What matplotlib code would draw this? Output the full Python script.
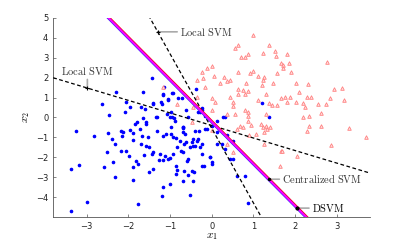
import numpy as np
import matplotlib
matplotlib.use('Agg')
import matplotlib.pyplot as plt

plt.rcParams['mathtext.fontset'] = 'cm'

# class -1 samples (blue dots)
blue_x = [-1.43, -2.29, -1.64, -1.14, -2.62, -2.05, -1.95, -2.07, -2.45, -1.69,
          -1.60, -1.40, -1.21, -1.05, -0.93, -0.71, -1.17, -0.38, -1.64, -1.79,
          -1.31, -1.07, -0.98, -0.95, -0.90, -0.57, -0.29, -0.24,
          -3.26, -2.83, -2.48, -2.40, -2.31, -2.17, -2.12, -2.14, -1.95, -1.88,
          -1.88, -1.83, -1.71, -1.67, -1.57, -1.52, -1.69, -1.57, -1.50, -1.31,
          -1.17, -1.10, -0.98, -0.93, -0.86, -0.76, -0.64, -0.69, -0.67, -0.48,
          -0.45, -0.36, -0.31, -0.24,
          -2.50, -2.17, -2.05, -1.98, -1.81, -1.76, -1.88, -2.36, -2.57, -2.31,
          -1.88, -1.62, -1.50, -1.40, -1.43, -1.40, -1.24, -1.26, -1.17, -1.12,
          -1.05, -1.00, -0.93, -0.83, -0.74, -0.60, -0.86, -0.83, -0.86, -0.67,
          -0.57, -0.48, -0.43, -0.69, -0.45, -1.00, -1.17, -1.19, -0.52, -2.98,
          -3.38, -1.76, -3.17, -3.38, -0.24, -0.19, -0.24,
          -0.33, -0.24, -0.17, 0.26, 0.31, 1.21, 1.38, -0.69, -0.69, -0.40,
          -0.12, -0.33, -0.45, -0.62, -0.52, -0.40, -0.29, -0.69, -0.57, -0.05,
          0.00, 0.43, 0.12, 0.00, -0.17, 0.14, 0.36, 0.50, 0.12, 0.24,
          0.33, 0.52, -0.05, 0.00, 0.60, 0.79, 0.86,
          -1.17, -0.95, -0.81, -1.19, -1.05, -1.40, -1.33, -1.00, -0.88, -1.57,
          -0.69, -0.98, -0.62]
blue_y = [1.96, 1.30, 1.30, 1.53, 0.70, 0.77, 0.53, 0.30, 0.12, 0.53,
          0.45, 0.70, 0.80, 0.95, 1.25, 1.00, 1.20, 1.45, -0.05, -0.25,
          0.00, 0.15, 0.25, 0.00, -0.05, 0.00, 0.30, 0.40,
          -0.70, -0.95, -0.80, -1.10, -1.35, -0.70, -0.75, -0.95, -0.65, -0.80,
          -1.15, -0.35, -0.60, -0.95, -0.35, -1.00, -1.35, -1.45, -1.50, -0.70,
          -0.95, -0.85, -0.85, -1.00, -1.05, -1.20, -0.85, -0.55, -1.35, -1.25,
          -1.45, -1.20, -0.70, -1.35,
          -1.75, -1.70, -1.70, -1.95, -2.20, -2.35, -2.50, -2.25, -2.50, -3.00,
          -3.15, -1.90, -2.75, -2.60, -1.85, -1.75, -1.85, -2.15, -2.15, -1.95,
          -2.10, -2.05, -1.85, -1.50, -1.70, -2.20, -2.45, -2.65, -2.85, -2.70,
          -2.90, -2.70, -2.75, -3.20, -3.20, -3.35, -3.50, -3.95, -3.90, -4.25,
          -4.70, -4.35, -2.40, -2.60, -2.45, -2.45, -1.85,
          0.30, 0.50, 0.05, 0.00, 0.00, 0.75, 0.00, -0.50, -0.75, -0.70,
          -0.60, -1.10, -1.10, -1.25, -1.50, -1.45, -1.50, -1.75, -2.10, -2.00,
          -2.25, -2.10, -0.20, -0.45, -0.60, -0.75, -0.90, -1.20, -1.35, -1.35,
          -1.60, -2.10, -2.00, -2.35, -2.95, -2.95, -4.30,
          1.15, 1.25, 1.00, 0.70, 0.90, 0.75, 0.00, 0.00, -0.20, -0.25,
          -0.50, -0.50, 0.40]

# class +1 samples (red triangles)
red_x = [0.98, 0.62, 0.55, 1.38, 1.52, 1.24, 1.81, 1.55, 0.86, 0.79,
         0.71, 1.67, 1.71, 1.86, 1.71, 2.76, 0.02, -0.10, 0.62, 0.98,
         0.93, 1.57, 1.90, 0.05, 0.29, 0.45, 0.36, 0.21, 0.83, 1.10,
         1.26, 1.24, 1.21, 1.48, 2.02, 2.31, 2.93, 3.12, 0.62, 0.74,
         0.88, 2.10, 0.43, 0.62, 0.79, 1.67, 1.76, 1.88, 2.29, 2.38,
         2.83, 3.17, 0.00, 0.07, 0.50, 1.10, 1.31, 1.38, 1.45, 1.57,
         1.81, 2.02, 2.19, 2.24, 2.55, 2.74, 0.52, 0.79, 0.86, 0.88,
         0.57, 1.31, 2.62, 0.00, 0.36, 2.19, 2.33,
         -1.17, -0.83, -0.45, -0.36, -0.36, -0.24, -0.21, -0.17, -0.48,
         0.86, 0.95, 1.19, 1.24, 1.31, 1.40, 1.07, 0.90, 1.26, 1.33,
         2.33, 2.29, 2.62, 3.29, 3.69, 1.26, 1.67, 2.05, 2.86, 1.64,
         0.67, 0.74, 0.60, 0.36, 0.50, 0.00, 1.69]
red_y = [4.15, 3.65, 3.50, 3.65, 3.35, 3.25, 3.20, 3.10, 3.20, 3.05,
         3.05, 2.75, 2.65, 2.75, 2.50, 2.80, 2.60, 2.50, 2.30, 2.35,
         2.25, 2.25, 2.30, 2.10, 2.05, 1.90, 1.85, 1.75, 1.75, 2.10,
         2.05, 1.90, 1.65, 1.75, 1.75, 1.70, 1.45, 1.50, 1.45, 1.40,
         1.35, 1.30, 1.05, 1.20, 1.20, 1.00, 1.05, 1.05, 1.05, 1.05,
         1.00, 0.90, 1.00, 0.80, 0.80, 0.90, 1.20, 0.75, 0.65, 0.65,
         0.80, 0.80, 0.75, 0.55, 0.70, 0.70, 0.60, 0.40, 0.25, 0.05,
         0.15, 0.15, 0.20, 0.40, 0.15, 0.00, 0.05,
         1.55, 0.70, 0.55, 1.05, 1.90, 2.30, 2.00, 1.55, -0.25,
         -0.20, -0.40, -0.35, -0.50, -0.45, -0.50, -0.85, -0.90, -0.75, -0.60,
         -0.45, -0.70, -0.45, -0.55, -1.00, -1.35, -1.70, -1.95, -1.40, -2.45,
         -0.45, -0.50, -0.60, -1.35, -1.75, -0.65, -1.70]

# separating lines x2 = slope*x1 + icpt
local1_slope, local1_icpt = -3.745, -0.54
local2_slope, local2_icpt = -0.63, -0.40
cent_slope, cent_icpt = -2.11, -0.19
dsvm_slope, dsvm_icpt = -2.11, -0.24

fig = plt.figure(figsize=(4.09, 2.45), dpi=100)
ax = fig.add_axes([0.13, 0.114, 0.775, 0.813])

ax.plot(blue_x, blue_y, '.', color='#0000ff', ms=3.2, zorder=3)
ax.plot(red_x, red_y, '^', mfc='#ffe0e0', mec='#ff8080', ms=2.6, mew=0.6, zorder=3)

xx = np.array([-3.8, 3.8])
ax.plot(xx, local1_slope*xx + local1_icpt, '--', color='k', lw=0.9, dashes=(3, 2), zorder=4)
ax.plot(xx, local2_slope*xx + local2_icpt, '--', color='k', lw=0.9, dashes=(3, 2), zorder=4)
ax.plot(xx, cent_slope*xx + cent_icpt, '-', color='#ff0000', lw=2.0, zorder=5)
ax.plot(xx, dsvm_slope*xx + dsvm_icpt, '-', color='#3030ff', lw=1.8, zorder=5)
ax.plot(xx, dsvm_slope*xx + (dsvm_icpt + cent_icpt)/2, '-', color='#ff00ff', lw=1.4, zorder=6)

txt = dict(fontsize=7.5, color='#333333')
arr = dict(arrowstyle='-', color='#aaaaaa', lw=1.2, shrinkA=0, shrinkB=0)

# annotations
y0 = 4.3
p = ((y0 - local1_icpt) / local1_slope, y0)
ax.annotate(r'$\mathrm{Local\ SVM}$', xy=p, xytext=(-0.76, y0), va='center', ha='left', arrowprops=arr, **txt)
ax.plot(*p, 'k+', ms=3, mew=0.8, zorder=7)

x0 = -2.98
p = (x0, local2_slope*x0 + local2_icpt)
ax.annotate(r'$\mathrm{Local\ SVM}$', xy=p, xytext=(x0, 2.05), va='bottom', ha='center', arrowprops=arr, **txt)
ax.plot(*p, 'k+', ms=3, mew=0.8, zorder=7)

y0 = -3.1
p = ((y0 - cent_icpt) / cent_slope, y0)
ax.annotate(r'$\mathrm{Centralized\ SVM}$', xy=p, xytext=(1.69, y0), va='center', ha='left', arrowprops=arr, **txt)
ax.plot(*p, 'k.', ms=3, zorder=7)

y0 = -4.55
p = ((y0 - dsvm_icpt) / dsvm_slope, y0)
ax.annotate(r'$\mathrm{DSVM}$', xy=p, xytext=(2.4, y0), va='center', ha='left', arrowprops=arr, fontsize=7.5, color='k')
ax.plot(*p, 'k.', ms=4, zorder=7)

ax.set_xlim(-3.8, 3.8)
ax.set_ylim(-5, 5)
ax.set_xticks([-3, -2, -1, 0, 1, 2, 3])
ax.set_yticks(range(-4, 6))
ax.spines['top'].set_visible(False)
ax.spines['right'].set_visible(False)
for s in ['left', 'bottom']:
    ax.spines[s].set_color('#555555')
    ax.spines[s].set_linewidth(0.6)
ax.tick_params(direction='in', length=2.5, width=0.5, colors='#555555', labelsize=6, labelcolor='#222222')
ax.set_xlabel(r'$x_1$', fontsize=8, labelpad=0)
ax.set_ylabel(r'$x_2$', fontsize=8, labelpad=3)

fig.savefig('out.png', dpi=100)
